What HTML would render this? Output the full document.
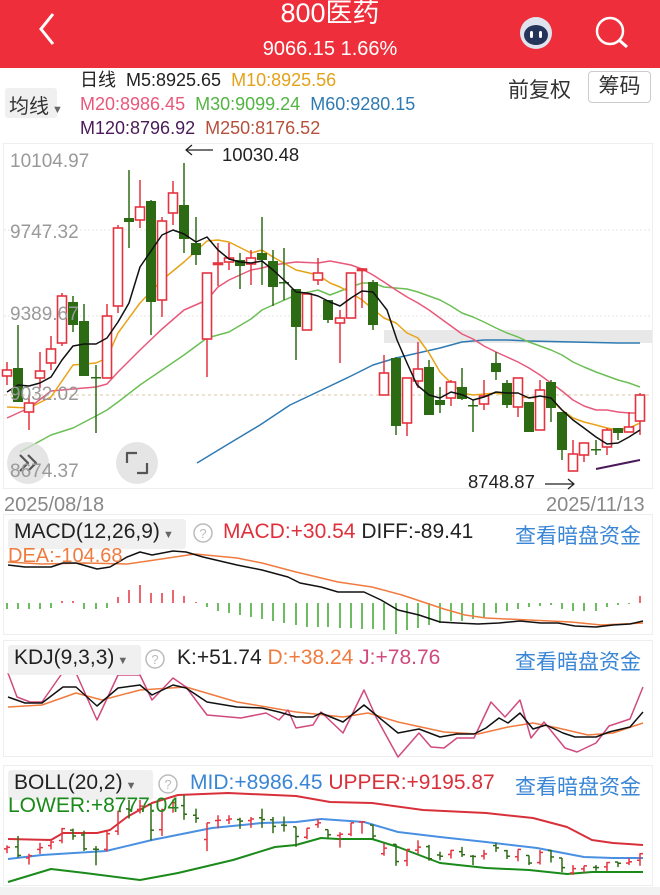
<!DOCTYPE html>
<html><head><meta charset="utf-8">
<style>
*{margin:0;padding:0;box-sizing:border-box}
body{width:660px;height:895px;overflow:hidden;background:#fff;font-family:"Liberation Sans","Noto Sans CJK SC",sans-serif;position:relative}
.hdr{position:absolute;left:0;top:0;width:660px;height:68px;background:#ee2f3b;color:#fff;text-align:center}
.t1{position:absolute;top:-3px;left:0;width:660px;font-size:27px;line-height:32px}
.t2{position:absolute;top:36px;left:0;width:660px;font-size:20px;line-height:26px}
.abs{position:absolute;white-space:nowrap}
svg{position:absolute;left:0;top:0}
</style></head><body>
<div class="hdr"><div class="t1">800医药</div><div class="t2">9066.15 1.66%</div>
<svg width="660" height="68"><polyline points="53,14 41,29 53,44" fill="none" stroke="#fff" stroke-width="3"/>
<circle cx="536" cy="33" r="16" fill="#dfe3ee"/><ellipse cx="536" cy="35" rx="12" ry="10" fill="#25345a"/><rect x="530" y="31" width="3" height="7" rx="1.5" fill="#fff"/><rect x="539" y="31" width="3" height="7" rx="1.5" fill="#fff"/>
<circle cx="610" cy="31" r="13" fill="none" stroke="#fff" stroke-width="2.5"/><line x1="619" y1="40" x2="627" y2="47" stroke="#fff" stroke-width="3"/>
<circle cx="653" cy="68" r="5" fill="#ee2f3b"/></svg></div>

<div class="abs" style="left:5px;top:88px;width:52px;height:30px;background:#f0f0f0;border-radius:3px"></div>
<div class="abs" style="left:9px;top:90px;font-size:20px;color:#333">均线<span style="font-size:11px;color:#666"> ▼</span></div>
<div class="abs" style="left:80px;top:69px;font-size:18px;line-height:22px;color:#222">日线&nbsp;&nbsp;M5:8925.65&nbsp;&nbsp;<span style="color:#e3a21a">M10:8925.56</span></div>
<div class="abs" style="left:80px;top:93px;font-size:18px;line-height:22px"><span style="color:#e8587a">M20:8986.45</span>&nbsp;&nbsp;<span style="color:#53b443">M30:9099.24</span>&nbsp;&nbsp;<span style="color:#2f7ab3">M60:9280.15</span></div>
<div class="abs" style="left:80px;top:117px;font-size:18px;line-height:22px"><span style="color:#4a1a5a">M120:8796.92</span>&nbsp;&nbsp;<span style="color:#b5503c">M250:8176.52</span></div>
<div class="abs" style="left:508px;top:74px;font-size:21px;color:#333">前复权</div>
<div class="abs" style="left:588px;top:71px;width:63px;height:32px;border:1px solid #ccc;border-radius:4px;font-size:21px;color:#333;text-align:center;line-height:30px">筹码</div>

<svg id="s" width="660" height="895"></svg>

<div class="abs" style="left:10px;top:151px;font-size:19px;color:#999">10104.97</div>
<div class="abs" style="left:10px;top:222px;font-size:19px;color:#999">9747.32</div>
<div class="abs" style="left:10px;top:304px;font-size:19px;color:#999">9389.67</div>
<div class="abs" style="left:10px;top:384px;font-size:19px;color:#999">9032.02</div>
<div class="abs" style="left:10px;top:461px;font-size:19px;color:#999">8674.37</div>
<div class="abs" style="left:222px;top:144px;font-size:18.5px;color:#222">10030.48</div>
<div class="abs" style="left:468px;top:471px;font-size:18.5px;color:#222">8748.87</div>
<div class="abs" style="left:4px;top:494px;font-size:20px;color:#888">2025/08/18</div>
<div class="abs" style="left:546px;top:494px;font-size:20px;color:#888">2025/11/13</div>

<div class="abs" style="left:8px;top:519px;width:178px;height:30px;background:#f0f0f0;border-radius:3px"></div>
<div class="abs" style="left:14px;top:520px;font-size:21px;color:#222">MACD(12,26,9)<span style="font-size:11px;color:#666"> ▼</span></div>
<div class="abs" style="left:223px;top:520px;font-size:21px;color:#e0303c">MACD:+30.54 <span style="color:#222">DIFF:-89.41</span></div>
<div class="abs" style="left:8px;top:545px;font-size:20px;color:#f07b3f">DEA:-104.68</div>
<div class="abs" style="left:515px;top:520px;font-size:21px;color:#3a86d6">查看暗盘资金</div>

<div class="abs" style="left:8px;top:645px;width:133px;height:30px;background:#f0f0f0;border-radius:3px"></div>
<div class="abs" style="left:14px;top:646px;font-size:21px;color:#222">KDJ(9,3,3)<span style="font-size:11px;color:#666"> ▼</span></div>
<div class="abs" style="left:177px;top:646px;font-size:21px;color:#222">K:+51.74 <span style="color:#f07b3f">D:+38.24</span> <span style="color:#d04a7e">J:+78.76</span></div>
<div class="abs" style="left:515px;top:646px;font-size:21px;color:#3a86d6">查看暗盘资金</div>

<div class="abs" style="left:8px;top:770px;width:145px;height:30px;background:#f0f0f0;border-radius:3px"></div>
<div class="abs" style="left:14px;top:771px;font-size:21px;color:#222">BOLL(20,2)<span style="font-size:11px;color:#666"> ▼</span></div>
<div class="abs" style="left:190px;top:771px;font-size:21px;color:#3a86d6">MID:+8986.45 <span style="color:#d8303a">UPPER:+9195.87</span></div>
<div class="abs" style="left:8px;top:794px;font-size:21px;color:#1a8a1a">LOWER:+8777.04</div>
<div class="abs" style="left:515px;top:771px;font-size:21px;color:#3a86d6">查看暗盘资金</div>

<script>
var C=[[7,'r',370,376,362,385],[18,'g',368,402,325,402],[29,'r',403,412,395,430],[40,'r',371,378,352,388],[51,'r',349,363,336,370],[62,'r',296,343,293,346],[73,'g',302,325,296,332],[84,'g',321,376,304,376],[96,'g',377,378,365,433],[107,'r',316,378,304,378],[118,'r',228,306,225,313],[129,'g',218,222,170,248],[140,'r',207,220,180,228],[151,'g',201,302,200,335],[162,'r',221,300,217,317],[173,'r',193,213,181,225],[184,'g',205,239,163,253],[196,'g',243,255,217,265],[207,'r',273,339,273,377],[218,'r',263,264,243,286],[229,'r',258,262,243,270],[240,'g',260,266,253,289],[251,'r',258,264,250,285],[262,'g',253,260,217,285],[273,'g',261,287,250,306],[284,'g',282,283,248,300],[296,'g',289,327,289,360],[307,'r',294,330,293,330],[318,'r',273,280,258,285],[328,'g',300,320,300,323],[340,'r',318,323,310,363],[351,'r',273,318,273,318],[362,'r',269,270,268,308],[373,'g',282,325,280,330],[384,'r',373,395,355,395],[396,'g',358,426,357,435],[407,'r',378,423,378,436],[418,'r',369,381,342,388],[429,'g',367,415,360,415],[440,'g',400,405,387,413],[451,'r',382,398,380,406],[462,'g',387,399,368,400],[473,'g',405,406,400,432],[484,'r',396,404,380,410],[496,'g',363,372,352,380],[507,'g',383,405,380,408],[518,'r',378,407,378,417],[529,'g',402,432,402,432],[540,'r',390,430,380,430],[551,'g',382,408,380,422],[562,'g',412,450,412,460],[573,'r',454,471,440,471],[584,'r',443,455,443,462],[596,'g',449,450,440,455],[607,'r',430,447,428,455],[618,'g',428,433,428,440],[629,'r',427,432,412,432],[640,'r',395,421,393,435]];
var RED='#e5333f',GRN='#2d6a14';
var h='';
function pl(p,c,w){return '<polyline points="'+p+'" fill="none" stroke="'+c+'" stroke-width="'+(w||1.5)+'" stroke-linejoin="round"/>';}
h+='<rect x="3.5" y="143.5" width="649" height="345" fill="none" stroke="#eee"/>';
h+='<line x1="4" y1="230" x2="652" y2="230" stroke="#e6e6e6" stroke-dasharray="2,2"/>';
h+='<line x1="4" y1="316" x2="652" y2="316" stroke="#e6e6e6" stroke-dasharray="2,2"/>';
h+='<rect x="384" y="330" width="268" height="13" fill="#e8e8e8"/>';
h+='<line x1="4" y1="395" x2="652" y2="395" stroke="#d8c8a0" stroke-dasharray="3,3"/>';
h+='<rect x="3.5" y="514.5" width="649" height="120" fill="none" stroke="#eee"/>';
h+='<rect x="3.5" y="640.5" width="649" height="116" fill="none" stroke="#eee"/>';
h+='<rect x="3.5" y="765.5" width="649" height="120" fill="none" stroke="#eee"/>';
h+='<rect x="0" y="887" width="660" height="8" fill="#f2f2f2"/>';
h+=pl('197,463 230,443 260,425 290,405 328,387 351,376 373,365 396,358 418,353 440,348 462,342 484,340 507,340 529,341 573,342 618,343 640,343','#2f7ab3');
h+=pl('20,452 51,435 73,428 96,416 107,410 118,402 140,385 162,370 184,355 207,338 229,332 251,319 262,310 273,305 296,295 318,290 330,295 351,287 362,283 373,283 384,287 407,289 418,292 429,296 440,300 451,306 462,313 473,317 484,322 496,328 507,333 518,337 529,342 540,346 551,350 562,355 573,362 584,367 596,372 607,376 618,380 629,383 640,387','#6cbf55');
h+=pl('7,418 29,408 51,391 73,389 96,387 107,384 118,372 140,350 162,329 184,310 207,300 218,287 229,280 251,270 262,268 273,265 296,262 318,263 330,261 351,265 362,269 373,275 384,282 396,290 407,297 418,303 429,310 440,318 451,326 462,334 473,339 484,346 496,352 507,357 518,362 529,368 540,375 551,383 562,391 573,400 584,406 596,410 607,410 618,412 629,413 640,413','#e8587a');
h+=pl('7,407 29,408 51,397 73,365 96,363 107,358 118,333 140,303 162,280 184,262 207,241 218,240 229,242 251,253 262,250 273,257 296,270 318,275 330,283 340,287 351,293 362,300 384,318 396,323 407,333 418,338 429,353 440,372 451,383 462,393 473,395 496,393 518,397 540,398 551,400 562,410 573,418 584,422 596,425 607,428 618,430 629,428 640,423','#e8a317');
for(var i=0;i<C.length;i++){var c=C[i],col=c[1]=='r'?RED:GRN;
h+='<line x1="'+c[0]+'" y1="'+c[4]+'" x2="'+c[0]+'" y2="'+c[5]+'" stroke="'+col+'" stroke-width="1.5"/>';
var bh=Math.max(c[3]-c[2],1.5);
if(c[1]=='r')h+='<rect x="'+(c[0]-4.5)+'" y="'+c[2]+'" width="9" height="'+bh+'" fill="#fff" stroke="'+col+'" stroke-width="1.6"/>';
else h+='<rect x="'+(c[0]-5)+'" y="'+c[2]+'" width="10" height="'+bh+'" fill="'+col+'"/>';}
h+=pl('7,392 18,385 29,386 40,383 51,377 62,360 73,346 84,344 96,344 107,338 118,322 129,303 140,267 151,251 162,235 173,230 184,234 196,242 207,237 218,250 229,259 240,262 251,263 262,261 273,270 284,280 296,292 307,293 318,296 330,302 340,306 351,298 362,291 373,292 387,310 397,340 407,363 417,385 429,395 440,398 451,392 463,395 473,400 484,397 496,392 507,393 518,393 529,398 540,396 551,398 562,410 573,420 584,428 596,437 607,444 618,443 629,437 640,430','#111');
h+=pl('596,469 640,460','#4a1a5a',2);
h+=pl('213,150 186,150','#222',1.3)+pl('192,145 186,150 192,155','#222',1.3);
h+=pl('545,484 574,484','#222',1.3)+pl('568,479 574,484 568,489','#222',1.3);
h+='<circle cx="28" cy="463" r="21" fill="rgba(220,220,220,0.75)"/>'+pl('20,455 28,463 20,471','#555',2.2)+pl('28,455 36,463 28,471','#555',2.2);
h+='<circle cx="137" cy="463" r="21" fill="rgba(220,220,220,0.75)"/>'+pl('127,463 127,453 137,453','#555',2.2)+pl('147,463 147,473 137,473','#555',2.2);
var hv=[-6,-6,-6,-6,-5,2,2,-6,-6,-5,6,13,18,10,10,13,7,1,-4,-8,-10,-12,-14,-16,-18,-20,-22,-24,-24,-24,-25,-25,-26,-26,-27,-31,-27,-25,-22,-20,-18,-18,-16,-14,-10,-8,-6,-4,-3,-2,-6,-8,-8,-8,-4,-2,-1,7];
for(i=0;i<hv.length;i++){var x=C[i][0],v=hv[i];h+='<line x1="'+x+'" y1="603" x2="'+x+'" y2="'+(603-v)+'" stroke="'+(v>0?RED:'#3aa52a')+'" stroke-width="1.5"/>';}
h+=pl('8,562 42,564 85,563 127,564 148,561 195,554 237,558 262,563 296,572 338,582 372,587 402,595 423,602 444,609 465,615 486,618 529,620 571,622 601,625 643,623','#f07b3f');
h+=pl('8,565 25,567 51,567 63,563 76,563 97,569 110,567 127,557 140,552 152,555 173,551 186,552 203,557 220,561 237,565 262,570 288,577 300,583 321,587 338,592 364,592 381,600 398,610 419,615 440,622 457,623 478,624 499,623 520,621 541,623 558,623 575,626 596,627 613,625 630,624 643,621','#111');
h+=pl('8,707 42,705 76,693 102,700 140,690 186,687 237,702 296,712 343,717 368,713 398,722 444,732 478,734 508,727 533,723 558,728 588,735 613,733 643,723','#f07b3f');
h+=pl('8,673 17,697 30,702 42,702 63,672 76,673 97,720 118,675 140,675 152,700 173,678 186,687 207,715 241,718 266,713 279,720 288,710 296,728 313,725 321,712 343,733 364,690 376,717 398,757 419,733 431,747 444,748 457,738 474,738 491,702 505,717 520,700 531,738 544,722 565,748 577,752 596,743 609,726 630,719 643,687','#d04a7e');
h+=pl('8,697 25,703 42,703 63,687 76,687 97,706 118,688 140,685 152,695 173,685 186,688 207,702 237,707 262,708 279,712 296,717 313,717 321,713 343,722 364,705 376,715 398,733 419,729 440,737 457,734 474,734 486,728 499,718 508,723 520,713 533,729 546,725 563,733 575,737 596,737 609,732 630,727 643,712','#111');
h+=pl('8,839 51,840 63,833 97,833 110,830 127,817 152,803 178,795 228,793 296,796 330,802 372,803 423,810 486,813 533,818 567,827 592,840 613,843 643,845','#d8303a',2);
h+=pl('8,859 42,855 106,851 152,840 212,828 262,823 296,822 321,819 364,822 398,832 440,837 486,842 537,848 584,857 613,858 643,858','#4a90e2',2);
h+=pl('8,882 51,869 85,873 140,880 178,873 233,860 275,847 296,845 321,838 338,839 372,839 398,847 440,863 486,868 529,870 567,874 592,872 643,872','#1a8a1a',2);
function by(y){return 795+(y-163)*0.253;}
for(i=0;i<C.length;i++){c=C[i];col=c[1]=='r'?RED:GRN;var o=c[1]=='r'?c[3]:c[2],cl=c[1]=='r'?c[2]:c[3];
h+='<line x1="'+c[0]+'" y1="'+by(c[4])+'" x2="'+c[0]+'" y2="'+(by(c[5])+2)+'" stroke="'+col+'" stroke-width="1.5"/>';
h+='<line x1="'+(c[0]-3)+'" y1="'+by(o)+'" x2="'+c[0]+'" y2="'+by(o)+'" stroke="'+col+'" stroke-width="1.5"/>';
h+='<line x1="'+c[0]+'" y1="'+by(cl)+'" x2="'+(c[0]+3)+'" y2="'+by(cl)+'" stroke="'+col+'" stroke-width="1.5"/>';}
h+='<circle cx="203" cy="533" r="9" fill="none" stroke="#bbb" stroke-width="1.5"/><text x="203" y="538" font-size="13" fill="#bbb" text-anchor="middle" font-family="Liberation Sans">?</text>';
h+='<circle cx="155" cy="659" r="9" fill="none" stroke="#bbb" stroke-width="1.5"/><text x="155" y="664" font-size="13" fill="#bbb" text-anchor="middle" font-family="Liberation Sans">?</text>';
h+='<circle cx="168" cy="784" r="9" fill="none" stroke="#bbb" stroke-width="1.5"/><text x="168" y="789" font-size="13" fill="#bbb" text-anchor="middle" font-family="Liberation Sans">?</text>';
document.getElementById('s').innerHTML=h;
</script>
</body></html>
